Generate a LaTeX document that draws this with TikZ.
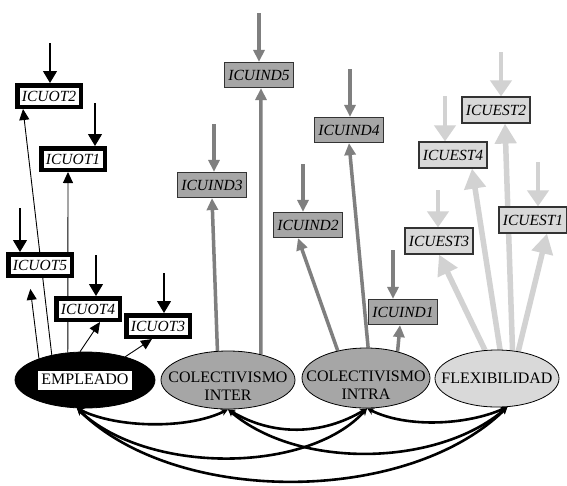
\documentclass[tikz,border=0pt]{standalone}
\usepackage{fontspec}
\setmainfont{Liberation Serif}
\usetikzlibrary{shapes.geometric,arrows.meta}
\definecolor{midgray}{HTML}{7F7F7F}
\definecolor{boxgray}{HTML}{A6A6A6}
\definecolor{lightarrow}{HTML}{D2D2D2}
\definecolor{lightfill}{HTML}{D9D9D9}
\pgfdeclarelayer{bgl}
\pgfdeclarelayer{lines}
\pgfsetlayers{bgl,lines,main}
\begin{document}
\begin{tikzpicture}[x=1pt,y=-1pt,
  lbl/.style={font=\fontsize{15.5}{17}\selectfont\itshape, inner sep=0pt},
  otbox/.style={lbl, draw=black, line width=4.5pt, fill=white, minimum width=63.5pt, minimum height=21.5pt},
  indbox/.style={lbl, draw=black!80, line width=1.2pt, fill=boxgray, minimum width=69pt, minimum height=25pt},
  estbox/.style={lbl, draw=black!80, line width=1.2pt, fill=lightfill, minimum width=68pt, minimum height=26pt},
  ell/.style={ellipse, draw=black, line width=0.8pt, inner sep=0pt},
  elltext/.style={font=\fontsize{16}{18}\selectfont, align=center, inner sep=0pt},
  blkarr/.style={draw=black, line width=0.9pt, -{Triangle[length=11pt,width=10pt]}},
  blkin/.style={draw=black, line width=1.1pt, -{Triangle[length=12pt,width=14pt]}},
  grayarr/.style={draw=midgray, line width=3.5pt, -{Triangle[length=12pt,width=11pt]}},
  lightarr/.style={draw=lightarrow, line width=5.5pt, -{Triangle[length=20pt,width=21pt]}},
  lightin/.style={draw=lightarrow, line width=4.5pt, -{Triangle[length=16pt,width=21pt]}},
  corr/.style={draw=black, line width=2.6pt, {Stealth[length=7pt,width=7pt]}-{Stealth[length=7pt,width=7pt]}}
]
\useasboundingbox (0,0) rectangle (567,485);
\begin{pgfonlayer}{bgl}
\fill[white] (0,0) rectangle (567,485);
\end{pgfonlayer}

% latent variables
\node[ell, fill=black, minimum width=140pt, minimum height=56pt] (emp) at (85,380) {};
\node[elltext, fill=white, inner xsep=3pt, inner ysep=2pt, text height=12pt, text depth=3pt] (emplbl) at (emp) {EMPLEADO};
\node[ell, fill=boxgray, minimum width=134pt, minimum height=58pt] (inter) at (228,380) {};
\node[elltext] (interlbl) at ([yshift=-6pt]inter.center) {COLECTIVISMO\\INTER};
\node[ell, fill=boxgray, minimum width=128pt, minimum height=60pt] (intra) at (366,378) {};
\node[elltext] (intralbl) at ([yshift=-7pt]intra.center) {COLECTIVISMO\\INTRA};
\node[ell, fill=lightfill, minimum width=124pt, minimum height=57pt] (flex) at (497,378.5) {};
\node[elltext] (flexlbl) at (flex) {FLEXIBILIDAD};

% indicators
\node[otbox] (ot2) at (49,96) {ICUOT2};
\node[otbox] (ot1) at (73,159) {ICUOT1};
\node[otbox] (ot5) at (40,265) {ICUOT5};
\node[otbox] (ot4) at (88,309) {ICUOT4};
\node[otbox] (ot3) at (158,326) {ICUOT3};

\node[indbox] (ind5) at (259,75) {ICUIND5};
\node[indbox] (ind3) at (212,185) {ICUIND3};
\node[indbox] (ind4) at (349,130) {ICUIND4};
\node[indbox] (ind2) at (308,225) {ICUIND2};
\node[indbox] (ind1) at (403,312) {ICUIND1};

\node[estbox] (est2) at (496,110) {ICUEST2};
\node[estbox] (est4) at (453,155) {ICUEST4};
\node[estbox] (est1) at (533,220) {ICUEST1};
\node[estbox] (est3) at (439,241) {ICUEST3};

% error arrows (free ends)
\coordinate (e-ot2) at (50,43);
\coordinate (e-ot1) at (95,103);
\coordinate (e-ot5) at (20,208);
\coordinate (e-ot4) at (96,255);
\coordinate (e-ot3) at (164,273);
\coordinate (e-ind5) at (259,13);
\coordinate (e-ind3) at (214,124);
\coordinate (e-ind4) at (350,69);
\coordinate (e-ind2) at (303,164);
\coordinate (e-ind1) at (393,250);
\coordinate (e-est2) at (501,52);
\coordinate (e-est4) at (445,96);
\coordinate (e-est1) at (538,162);
\coordinate (e-est3) at (438,190);

\begin{pgfonlayer}{lines}
\foreach \n in {ot2,ot1,ot5,ot4,ot3}
  \draw[blkin] (e-\n) -- (e-\n |- \n.north);
\foreach \n in {ind5,ind3,ind4,ind2,ind1}
  \draw[grayarr] (e-\n) -- (e-\n |- \n.north);
\foreach \n in {est2,est4,est1,est3}
  \draw[lightin] (e-\n) -- (e-\n |- \n.north);

% loadings
\draw[blkarr] (emp.143) -- ([xshift=-26pt]ot2.south);
\draw[blkarr] (emp.122) -- ([xshift=-5pt]ot1.south);
\draw[blkarr, shorten >=11pt] (emp.155) -- ([xshift=-11pt]ot5.south);
\draw[blkarr] (emp.100) -- ([xshift=12pt]ot4.south);
\draw[blkarr] (emp.30) -- ([xshift=-6pt]ot3.south);

\draw[grayarr] (inter.110) -- (ind3.south);
\draw[grayarr] (inter.38) -- ([xshift=2pt]ind5.south);
\draw[grayarr] (intra.136) -- ([xshift=-10pt]ind2.south);
\draw[grayarr] (intra.86) -- (ind4.south);
\draw[grayarr] (intra.40) -- ([xshift=-3pt]ind1.south);

\draw[lightarr] (flex.113) -- (est3.south);
\draw[lightarr] (flex.84) -- ([xshift=19pt]est4.south);
\draw[lightarr] (flex.61) -- ([xshift=9pt]est2.south);
\draw[lightarr] (flex.52) -- ([xshift=14pt]est1.south);

% correlations
\draw[corr] (emp.254) .. controls +(40,20) and +(-40,20) .. (inter.270);
\draw[corr] (inter.270) .. controls +(45,27) and +(-45,27) .. (intra.272);
\draw[corr] (intra.272) .. controls +(40,20) and +(-40,18) .. (flex.290);
\draw[corr] (emp.254) .. controls +(70,66) and +(-60,66) .. (intra.272);
\draw[corr] (inter.270) .. controls +(70,60) and +(-70,60) .. (flex.290);
\draw[corr] (emp.254) .. controls +(100,98) and +(-100,98) .. (flex.290);
\end{pgfonlayer}
\end{tikzpicture}
\end{document}
